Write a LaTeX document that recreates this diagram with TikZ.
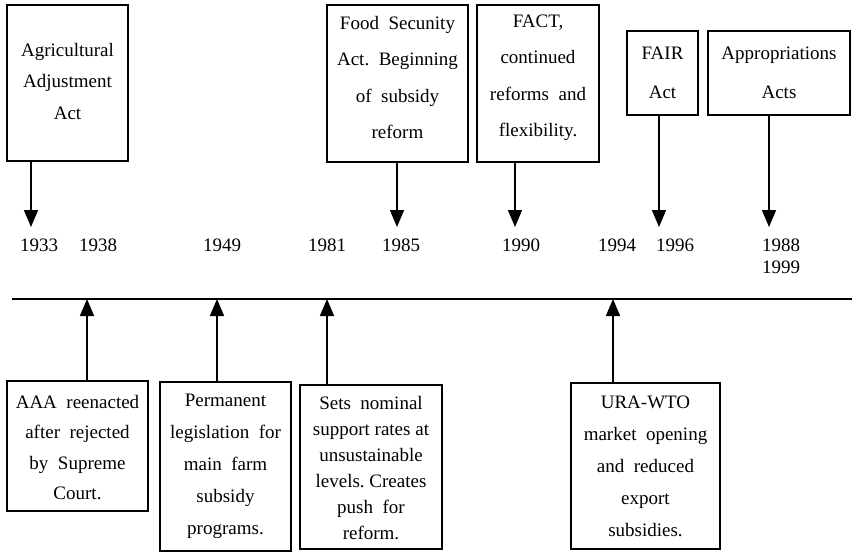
\documentclass[tikz,border=0pt]{standalone}
\usepackage{fontspec}
\setmainfont{Liberation Serif}
\usetikzlibrary{arrows.meta}
\begin{document}
\begin{tikzpicture}[x=1pt,y=-1pt,
  box/.style={draw, line width=1.6pt, inner sep=0pt, rectangle},
  txt/.style={inner sep=0pt, align=center},
  yr/.style={inner sep=0pt, font=\fontsize{19}{23}\selectfont},
  arr/.style={line width=1.6pt, -{Triangle[length=17pt,width=14pt]}},
  tl/.style={line width=1.6pt}]
\useasboundingbox (0,0) rectangle (852,552);
% top boxes
\node[box, minimum width=121pt, minimum height=156pt] (b1) at (67.5,83) {};
\node[txt, font=\fontsize{19}{31.5}\selectfont] (b1t) at (67.5,81) {Agricultural\\Adjustment\\Act};
\node[box, minimum width=141pt, minimum height=157pt] (b2) at (397.5,83.5) {};
\node[txt, font=\fontsize{19}{36.5}\selectfont] (b2t) at (397.5,77.5) {Food\ \ Secunity\\Act.\ \ Beginning\\of\ \ subsidy\\reform};
\node[box, minimum width=122pt, minimum height=157pt] (b3) at (538,83.5) {};
\node[txt, font=\fontsize{19}{36.5}\selectfont] (b3t) at (538,78) {FACT,\\continued\\reforms\ \ and\\flexibility.};
\node[box, minimum width=71pt, minimum height=84pt] (b4) at (662.5,73) {};
\node[txt, font=\fontsize{19}{39}\selectfont] (b4t) at (662.5,73) {FAIR\\Act};
\node[box, minimum width=142pt, minimum height=84pt] (b5) at (779,73) {};
\node[txt, font=\fontsize{19}{39}\selectfont] (b5t) at (779,73) {Appropriations\\Acts};
% bottom boxes
\node[box, minimum width=141pt, minimum height=130pt] (bA) at (77.5,446) {};
\node[txt, font=\fontsize{19}{30.5}\selectfont] (bAt) at (77.5,447.5) {AAA\ \ reenacted\\after\ \ rejected\\by\ \ Supreme\\Court.};
\node[box, minimum width=131pt, minimum height=169pt] (bB) at (225.5,466.5) {};
\node[txt, font=\fontsize{19}{32}\selectfont] (bBt) at (225.5,466.5) {Permanent\\legislation\ \ for\\main\ \ farm\\subsidy\\programs.};
\node[box, minimum width=142pt, minimum height=164pt] (bC) at (371,467) {};
\node[txt, font=\fontsize{19}{26}\selectfont] (bCt) at (371,468) {Sets\ \ nominal\\support rates at\\unsustainable\\levels.\ Creates\\push\ \ for\\reform.};
\node[box, minimum width=149pt, minimum height=166pt] (bD) at (645.5,466) {};
\node[txt, font=\fontsize{19}{32}\selectfont] (bDt) at (645.5,466) {URA-WTO\\market\ \ opening\\and\ \ reduced\\export\\subsidies.};
% year labels
\node[yr] (y1933) at (39,245) {1933};
\node[yr] (y1938) at (98,245) {1938};
\node[yr] (y1949) at (222,245) {1949};
\node[yr] (y1981) at (327,245) {1981};
\node[yr] (y1985) at (401,245) {1985};
\node[yr] (y1990) at (521,245) {1990};
\node[yr] (y1994) at (617,245) {1994};
\node[yr] (y1996) at (675,245) {1996};
\node[yr] (y1988) at (781,245) {1988};
\node[yr] (y1999) at (781,267) {1999};
% arrow end points
\coordinate (t1) at (31,227);
\coordinate (t2) at (397,227);
\coordinate (t3) at (515,227);
\coordinate (t4) at (659,227);
\coordinate (t5) at (769,227);
\coordinate (u1) at (87,299);
\coordinate (u2) at (217,299);
\coordinate (u3) at (327,299);
\coordinate (u4) at (613,299);
\coordinate (L0) at (12,299);
\coordinate (L1) at (852,299);
% timeline
\draw[tl] (L0) -- (L1);
% arrows
\draw[arr] (b1.south -| t1) -- (t1);
\draw[arr] (b2.south -| t2) -- (t2);
\draw[arr] (b3.south -| t3) -- (t3);
\draw[arr] (b4.south -| t4) -- (t4);
\draw[arr] (b5.south -| t5) -- (t5);
\draw[arr] (bA.north -| u1) -- (u1);
\draw[arr] (bB.north -| u2) -- (u2);
\draw[arr] (bC.north -| u3) -- (u3);
\draw[arr] (bD.north -| u4) -- (u4);
\end{tikzpicture}
\end{document}
